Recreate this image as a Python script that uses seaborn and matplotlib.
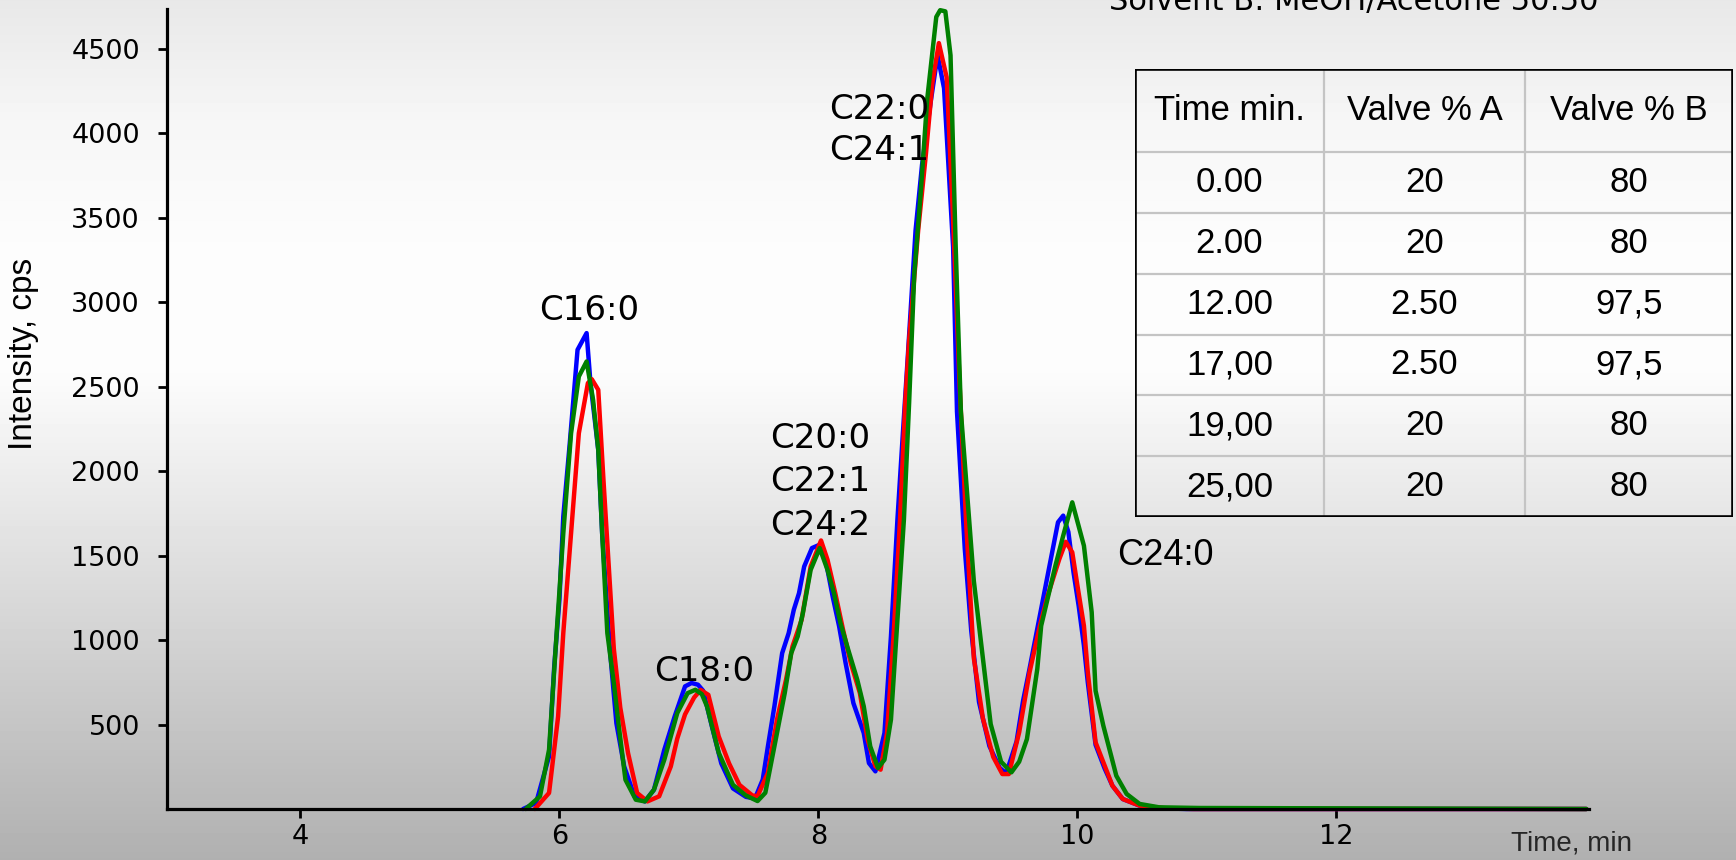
import numpy as np
import pandas as pd
import matplotlib
matplotlib.use("Agg")
import matplotlib.pyplot as plt
import seaborn as sns

# --- chromatogram traces: retention time (min) / intensity (cps) -------------
blue_time = [5.72, 5.82, 5.92, 5.96, 6.00, 6.03, 6.08, 6.14, 6.21, 6.24, 6.30, 6.33,
             6.39, 6.44, 6.50, 6.58, 6.66, 6.73, 6.81, 6.89, 6.97, 7.02, 7.07, 7.11,
             7.18, 7.25, 7.34, 7.44, 7.51, 7.57, 7.61, 7.66, 7.72, 7.77, 7.81, 7.85,
             7.89, 7.95, 8.01, 8.06, 8.11, 8.16, 8.21, 8.27, 8.35, 8.39, 8.44, 8.51,
             8.56, 8.61, 8.65, 8.69, 8.75, 8.80, 8.87, 8.92, 8.97, 9.04, 9.07, 9.13,
             9.18, 9.24, 9.32, 9.40, 9.45, 9.53, 9.58, 9.63, 9.71, 9.78, 9.85, 9.89,
             9.93, 9.97, 10.01, 10.05, 10.08, 10.14, 10.21, 10.27, 10.35, 10.48,
             10.66, 10.84, 13.93]
blue_cps = [0, 36, 312, 844, 1239, 1732, 2166, 2719, 2818, 2522, 2126, 1633,
            942, 508, 252, 75, 45, 114, 351, 548, 726, 746, 736, 700,
            481, 270, 122, 72, 62, 174, 371, 608, 923, 1041, 1180, 1278,
            1436, 1545, 1565, 1456, 1258, 1081, 864, 627, 450, 272, 223, 450,
            1022, 1713, 2200, 2678, 3425, 3814, 4203, 4463, 4268, 3327, 2353, 1542,
            1055, 633, 373, 243, 211, 400, 640, 830, 1146, 1423, 1698, 1737,
            1640, 1400, 1200, 968, 750, 380, 240, 138, 59, 20,
            4, 0, 0]

red_time = [5.81, 5.92, 5.99, 6.03, 6.09, 6.15, 6.22, 6.25, 6.30, 6.34, 6.38, 6.42,
            6.47, 6.53, 6.60, 6.68, 6.77, 6.86, 6.91, 6.97, 7.04, 7.09, 7.15, 7.23,
            7.31, 7.39, 7.49, 7.53, 7.61, 7.68, 7.75, 7.80, 7.87, 7.94, 8.02, 8.07,
            8.13, 8.19, 8.25, 8.32, 8.38, 8.44, 8.48, 8.53, 8.58, 8.63, 8.67, 8.70,
            8.77, 8.83, 8.88, 8.93, 8.99, 9.04, 9.09, 9.14, 9.20, 9.27, 9.35, 9.42,
            9.47, 9.55, 9.63, 9.71, 9.77, 9.86, 9.91, 9.96, 10.00, 10.05, 10.08,
            10.14, 10.21, 10.27, 10.35, 10.48, 10.68, 10.90, 13.93]
red_cps = [0, 95, 548, 1042, 1633, 2225, 2522, 2545, 2482, 1950, 1450, 950,
           600, 331, 95, 45, 75, 252, 417, 560, 660, 705, 676, 430,
           270, 143, 80, 76, 214, 529, 766, 963, 1120, 1436, 1590, 1476,
           1278, 1062, 864, 687, 411, 253, 233, 450, 1022, 1713, 2400, 2775,
           3425, 3879, 4300, 4535, 4333, 3490, 2516, 1704, 893, 536, 308, 207,
           207, 454, 809, 1085, 1263, 1480, 1582, 1520, 1322, 1085, 809,
           395, 257, 138, 59, 20, 4, 0, 0]

green_time = [5.74, 5.85, 5.92, 5.97, 6.03, 6.09, 6.15, 6.21, 6.26, 6.30, 6.33, 6.37,
              6.42, 6.46, 6.51, 6.59, 6.66, 6.73, 6.81, 6.91, 6.99, 7.05, 7.10, 7.14,
              7.23, 7.34, 7.44, 7.53, 7.59, 7.66, 7.74, 7.79, 7.84, 7.88, 7.94, 8.01,
              8.07, 8.12, 8.17, 8.23, 8.30, 8.35, 8.40, 8.46, 8.51, 8.56, 8.61, 8.66,
              8.70, 8.74, 8.79, 8.84, 8.91, 8.94, 8.98, 9.02, 9.06, 9.10, 9.15, 9.20,
              9.26, 9.33, 9.41, 9.49, 9.55, 9.61, 9.69, 9.72, 9.83, 9.89, 9.96, 10.05,
              10.11, 10.14, 10.20, 10.26, 10.30, 10.38, 10.48, 10.63, 10.94, 13.93]
green_cps = [0, 75, 351, 942, 1633, 2225, 2561, 2650, 2423, 2126, 1633, 1042,
             746, 481, 173, 55, 45, 114, 292, 568, 686, 706, 680, 607,
             333, 143, 80, 47, 96, 371, 687, 923, 1022, 1160, 1416, 1545,
             1416, 1278, 1101, 943, 765, 608, 371, 243, 292, 529, 1120, 1713,
             2400, 3165, 3652, 4203, 4690, 4730, 4723, 4463, 3327, 2353, 1850, 1350,
             957, 503, 280, 217, 280, 414, 829, 1085, 1441, 1618, 1816, 1559,
             1165, 700, 493, 316, 197, 89, 30, 10, 6, 0]

# --- peak annotations ---------------------------------------------------------
peak_names = ["C16:0", "C18:0", "C20:0", "C22:1", "C24:2", "C22:0", "C24:1", "C24:0"]
peak_pos = [(6.23, 2954, "center"), (7.12, 817, "center"),
            (7.63, 2194, "left"), (7.63, 1938, "left"), (7.63, 1676, "left"),
            (8.08, 4141, "left"), (8.08, 3898, "left"), (10.31, 1500, "left")]

# --- gradient program table ---------------------------------------------------
table_header = ["Time min.", "Valve % A", "Valve % B"]
table_time = ["0.00", "2.00", "12.00", "17,00", "19,00", "25,00"]
table_valve_a = ["20", "20", "2.50", "2.50", "20", "20"]
table_valve_b = ["80", "80", "97,5", "97,5", "80", "80"]

solvent_note = "Solvent B: MeOH/Acetone 50:50"

x_ticks = [4, 6, 8, 10, 12]
y_ticks = [500, 1000, 1500, 2000, 2500, 3000, 3500, 4000, 4500]

# --- tidy frame for seaborn ---------------------------------------------------
runs = [("blue", blue_time, blue_cps), ("red", red_time, red_cps),
        ("green", green_time, green_cps)]
df = pd.concat([pd.DataFrame({"time": t, "cps": v, "run": name})
                for name, t, v in runs], ignore_index=True)

sns.set_style("ticks")
plt.rcParams["font.family"] = ["DejaVu Sans"]

W, H = 1736, 860
fig = plt.figure(figsize=(W / 100, H / 100), dpi=100)

# vertical grey background gradient
bg = fig.add_axes([0, 0, 1, 1], zorder=0)
rows = np.arange(H)
shade = np.interp(rows, [0, 120, 250, 370, 860], [0.91, 0.965, 0.99, 0.99, 0.69])
bg.imshow(np.repeat(shade[:, None], 4, axis=1), cmap="gray", vmin=0, vmax=1,
          aspect="auto", extent=[0, 1, 1, 0])
bg.set_axis_off()

left, right, top, bottom = 167, 1589, 9, 809
ax = fig.add_axes([left / W, 1 - bottom / H, (right - left) / W, (bottom - top) / H],
                  zorder=1)
ax.patch.set_alpha(0)

sns.lineplot(data=df, x="time", y="cps", hue="run",
             hue_order=["blue", "red", "green"],
             palette={"blue": "#0000ff", "red": "#ff0000", "green": "#008000"},
             estimator=None, sort=False, legend=False, linewidth=3.2, ax=ax,
             clip_on=False)

ax.set_xlim(2.97, 13.95)
ax.set_ylim(0, 4737)
ax.set_xticks(x_ticks)
ax.set_yticks(y_ticks)
ax.set_xticklabels([str(v) for v in x_ticks])
ax.set_yticklabels([str(v) for v in y_ticks])
for side in ("top", "right"):
    ax.spines[side].set_visible(False)
for side in ("left", "bottom"):
    ax.spines[side].set_linewidth(2.3)
    ax.spines[side].set_color("black")
ax.tick_params(axis="both", direction="out", length=6.5, width=2.0, color="black",
               labelsize=19.5, labelcolor="black")
ax.tick_params(axis="y", pad=13)
ax.tick_params(axis="x", pad=4)
ax.set_xlabel("")
ax.set_ylabel("")

fig.text(24 / W, 1 - 354 / H, "Intensity, cps", rotation=90, ha="center",
         va="center", family=["Liberation Sans"], fontsize=24, color="black")

ax.text(13.35, -205, "Time, min", family=["Liberation Sans"], fontsize=20,
        ha="left", va="center", clip_on=False)

for name, (t, v, ha) in zip(peak_names, peak_pos):
    fam = ["Liberation Sans"] if name == "C24:0" else ["DejaVu Sans"]
    size = 26 if name == "C24:0" else 24.5
    ax.text(t, v, name, family=fam, fontsize=size, ha=ha, va="center",
            color="black")

fig.text(1109 / W, 1 - 10 / H, solvent_note, fontsize=22, ha="left",
         va="baseline", family=["DejaVu Sans"], color="black")

# gradient program table drawn in pixel units
t_left, t_top, t_right, t_bottom = 1135, 69, 1733, 517
tab = fig.add_axes([t_left / W, 1 - t_bottom / H, (t_right - t_left) / W,
                    (t_bottom - t_top) / H], zorder=2)
tw, th = t_right - t_left, t_bottom - t_top
tab.set_xlim(0, tw)
tab.set_ylim(th, 0)
tab.set_axis_off()
col_edges = [0, 1324 - t_left, 1525 - t_left, tw]
head_h = 83
row_h = (th - head_h) / len(table_time)
row_edges = [0, head_h] + [head_h + row_h * (i + 1) for i in range(len(table_time))]
for x in col_edges[1:-1]:
    tab.plot([x, x], [0, th], color="#c4c4c4", lw=1.6, solid_capstyle="butt")
for y in row_edges[1:-1]:
    tab.plot([0, tw], [y, y], color="#c4c4c4", lw=1.6, solid_capstyle="butt")
tab.plot([0, tw, tw, 0, 0], [0, 0, th, th, 0], color="black", lw=2.6,
         solid_joinstyle="miter")

cells = [table_header] + [list(r) for r in zip(table_time, table_valve_a, table_valve_b)]
for r, row in enumerate(cells):
    yc = (row_edges[r] + row_edges[r + 1]) / 2
    for c, txt in enumerate(row):
        xc = (col_edges[c] + col_edges[c + 1]) / 2
        tab.text(xc, yc, txt, ha="center", va="center", fontsize=25,
                 family=["Liberation Sans"], color="black")

fig.savefig("out.png", dpi=100)
